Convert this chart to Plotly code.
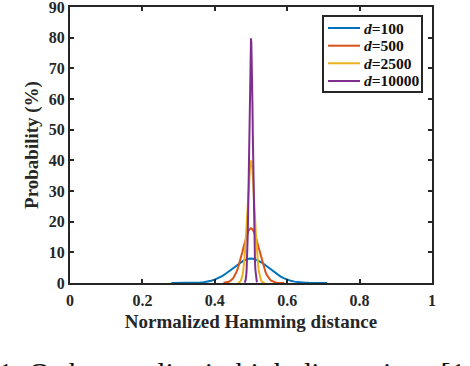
import plotly.graph_objects as go

# ---- data ----
x_d100 = [0.28, 0.29, 0.30, 0.31, 0.32, 0.33, 0.34, 0.35, 0.36, 0.37, 0.38, 0.39,
          0.40, 0.41, 0.42, 0.43, 0.44, 0.45, 0.46, 0.47, 0.48, 0.49, 0.50,
          0.51, 0.52, 0.53, 0.54, 0.55, 0.56, 0.57, 0.58, 0.59, 0.60, 0.61,
          0.62, 0.63, 0.64, 0.65, 0.66, 0.67, 0.68, 0.69, 0.70, 0.71]
y_d100 = [0.0004, 0.001, 0.002, 0.005, 0.01, 0.02, 0.05, 0.09, 0.16, 0.27, 0.45, 0.71,
          1.08, 1.59, 2.23, 3.01, 3.90, 4.85, 5.80, 6.66, 7.35, 7.80, 7.96,
          7.80, 7.35, 6.66, 5.80, 4.85, 3.90, 3.01, 2.23, 1.59, 1.08, 0.71,
          0.45, 0.27, 0.16, 0.09, 0.05, 0.02, 0.01, 0.005, 0.002, 0.001]

x_d500 = [0.424, 0.428, 0.432, 0.436, 0.440, 0.444, 0.448, 0.452, 0.456, 0.460,
          0.464, 0.468, 0.472, 0.476, 0.480, 0.484, 0.488, 0.492, 0.496, 0.500,
          0.504, 0.508, 0.512, 0.516, 0.520, 0.524, 0.528, 0.532, 0.536, 0.540,
          0.544, 0.548, 0.552, 0.556, 0.560, 0.564, 0.568, 0.572, 0.576, 0.580,
          0.584, 0.588, 0.592]
y_d500 = [0.055, 0.10, 0.17, 0.30, 0.49, 0.77, 1.19, 1.78, 2.58, 3.60,
          4.88, 6.41, 8.15, 10.03, 11.96, 13.81, 15.45, 16.74, 17.55, 17.84,
          17.55, 16.74, 15.45, 13.81, 11.96, 10.03, 8.15, 6.41, 4.88, 3.60,
          2.58, 1.78, 1.19, 0.77, 0.49, 0.30, 0.17, 0.10, 0.055, 0.03,
          0.015, 0.008, 0.004]

x_d2500 = [0.464, 0.466, 0.468, 0.470, 0.472, 0.474, 0.476, 0.478, 0.480, 0.482,
           0.484, 0.486, 0.488, 0.490, 0.492, 0.494, 0.496, 0.498, 0.500,
           0.502, 0.504, 0.506, 0.508, 0.510, 0.512, 0.514, 0.516, 0.518,
           0.520, 0.522, 0.524, 0.526, 0.528, 0.530, 0.532, 0.534, 0.536, 0.538]
y_d2500 = [0.06, 0.12, 0.24, 0.44, 0.79, 1.36, 2.24, 3.55, 5.40, 7.90,
           11.09, 14.97, 19.42, 24.20, 28.97, 33.33, 36.83, 39.10, 39.90,
           39.10, 36.83, 33.33, 28.97, 24.20, 19.42, 14.97, 11.09, 7.90,
           5.40, 3.55, 2.24, 1.36, 0.79, 0.44, 0.24, 0.12, 0.06, 0.03]

x_d10000 = [0.482, 0.483, 0.484, 0.485, 0.486, 0.487, 0.488, 0.489, 0.490, 0.491,
            0.492, 0.493, 0.494, 0.495, 0.496, 0.497, 0.498, 0.499, 0.500,
            0.501, 0.502, 0.503, 0.504, 0.505, 0.506, 0.507, 0.508, 0.509,
            0.510, 0.511, 0.512, 0.513, 0.514, 0.515, 0.516, 0.517]
y_d10000 = [0.12, 0.25, 0.48, 0.89, 1.58, 2.71, 4.48, 7.09, 10.80, 15.79,
            22.18, 29.95, 38.85, 48.40, 57.94, 66.66, 73.66, 78.20, 79.80,
            78.20, 73.66, 66.66, 57.94, 48.40, 38.85, 29.95, 22.18, 15.79,
            10.80, 7.09, 4.48, 2.71, 1.58, 0.89, 0.48, 0.25]

series_names = ["<b><i>d</i>=100</b>", "<b><i>d</i>=500</b>",
                "<b><i>d</i>=2500</b>", "<b><i>d</i>=10000</b>"]
series_colors = ["#0072BD", "#D95319", "#EDB120", "#7E2F8E"]

x_ticks = [0, 0.2, 0.4, 0.6, 0.8, 1]
x_ticklabels = ["0", "0.2", "0.4", "0.6", "0.8", "1"]
y_ticks = [0, 10, 20, 30, 40, 50, 60, 70, 80, 90]

caption = "1: Orthogonality in high dimensions [1, 15]"

# ---- figure ----
FONT = "Liberation Serif"
INK = "#262626"
W, H = 470, 366
ML, MR, MT, MB = 70, 38, 7, 83
PW, PH = W - ML - MR, H - MT - MB


def px_x(p):  # page pixel -> paper x
    return (p - ML) / PW


def px_y(p):  # page pixel -> paper y
    return (H - MB - p) / PH


fig = go.Figure()
for xs, ys, name, col in zip([x_d100, x_d500, x_d2500, x_d10000],
                             [y_d100, y_d500, y_d2500, y_d10000],
                             series_names, series_colors):
    fig.add_trace(go.Scatter(x=xs, y=ys, mode="lines", name=name,
                             line=dict(color=col, width=2), showlegend=False))

axis_common = dict(showline=True, linewidth=2, linecolor=INK, mirror="ticks",
                   ticks="inside", ticklen=4, tickwidth=1.5, tickcolor=INK,
                   showgrid=False, zeroline=False, automargin=False,
                   ticklabeloverflow="allow",
                   tickfont=dict(family=FONT, size=16, color=INK, weight="bold"))

fig.update_layout(
    width=W, height=H,
    margin=dict(l=ML, r=MR, t=MT, b=MB, autoexpand=False),
    paper_bgcolor="white", plot_bgcolor="white",
    xaxis=dict(range=[0, 1], tickvals=x_ticks, ticktext=x_ticklabels,
               ticklabelstandoff=2,
               title=dict(text="Normalized Hamming distance", standoff=6,
                          font=dict(family=FONT, size=19, color=INK, weight="bold")),
               **axis_common),
    yaxis=dict(range=[0, 90], tickvals=y_ticks,
               title=dict(text="Probability (%)", standoff=5,
                          font=dict(family=FONT, size=19, color=INK, weight="bold")),
               **axis_common),
    showlegend=False,
)

# legend box (MATLAB style)
fig.add_shape(type="rect", xref="paper", yref="paper",
              x0=px_x(323), x1=px_x(422), y0=px_y(92), y1=px_y(16),
              line=dict(color=INK, width=2), fillcolor="white", layer="above")
leg_rows = [28, 45.7, 63.3, 81]
for row, name, col in zip(leg_rows, series_names, series_colors):
    fig.add_shape(type="line", xref="paper", yref="paper",
                  x0=px_x(328), x1=px_x(360), y0=px_y(row), y1=px_y(row),
                  line=dict(color=col, width=2), layer="above")
    fig.add_annotation(text=name, xref="paper", yref="paper",
                       x=px_x(362), y=px_y(row), xanchor="left", yanchor="middle",
                       showarrow=False,
                       font=dict(family=FONT, size=15.5, color="#111111"))

fig.add_annotation(text=caption, xref="paper", yref="paper",
                   x=-0.204, y=-0.257, xanchor="left", yanchor="top",
                   showarrow=False,
                   font=dict(family=FONT, size=30, color="#111111"))

fig.write_html("out.html",
               config={"displayModeBar": False},
               post_script="document.body.style.margin='0';"
                           "document.body.style.overflow='hidden';")
